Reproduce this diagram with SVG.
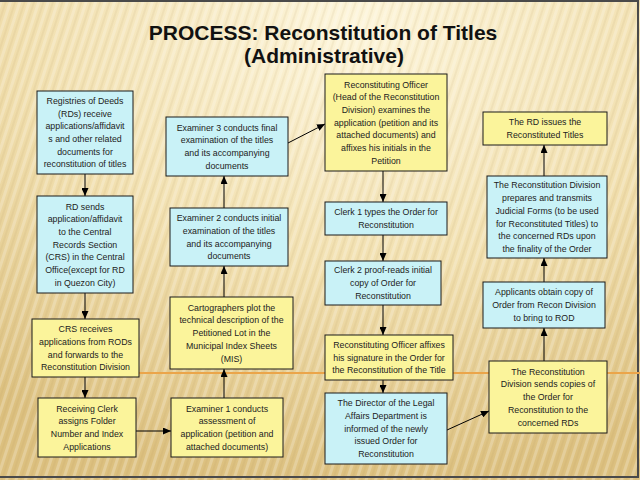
<svg xmlns="http://www.w3.org/2000/svg" width="640" height="480" viewBox="0 0 640 480">
<defs>
<radialGradient id="bg" cx="55%" cy="5%" r="95%">
<stop offset="0" stop-color="#fdf5da"/>
<stop offset="0.55" stop-color="#f1dfae"/>
<stop offset="1" stop-color="#dcc07f"/>
</radialGradient>
<pattern id="stripes" width="9" height="40" patternUnits="userSpaceOnUse" patternTransform="rotate(18)">
<rect x="0" y="0" width="3" height="40" fill="#ffffff" opacity="0.22"/>
<rect x="5" y="0" width="2" height="40" fill="#b89a55" opacity="0.10"/>
</pattern>
<marker id="arr" markerWidth="8" markerHeight="7" refX="8" refY="3.5" orient="auto" markerUnits="userSpaceOnUse">
<path d="M0,0 L8,3.5 L0,7 z" fill="#000"/>
</marker>
<style>
.c{fill:#c9f2f7;stroke:#1a1a1a;stroke-width:1}
.y{fill:#fbf49b;stroke:#1a1a1a;stroke-width:1}
.t{font-family:"Liberation Sans",Arial,sans-serif;font-size:8.8px;fill:#222;text-anchor:middle}
.ttl{font-family:"Liberation Sans",Arial,sans-serif;font-size:21px;font-weight:bold;fill:#111;text-anchor:middle}
.cn{stroke:#000;stroke-width:1;fill:none;marker-end:url(#arr)}
</style>
</defs>
<rect x="0" y="0" width="640" height="480" fill="url(#bg)"/>
<rect x="0" y="0" width="640" height="480" fill="url(#stripes)"/>
<rect x="-4" y="1" width="642" height="476" fill="none" stroke="#4a4a4a" stroke-width="2"/>
<line x1="135" y1="373" x2="640" y2="373" stroke="#eba54a" stroke-width="2"/>
<g id="title">
<text class="ttl" x="323" y="40">PROCESS: Reconstitution of Titles</text>
<text class="ttl" x="324" y="63">(Administrative)</text>
</g>
<g id="connectors">
<line class="cn" x1="85" y1="174" x2="85" y2="196"/>
<line class="cn" x1="85" y1="293" x2="85" y2="319"/>
<line class="cn" x1="85" y1="377" x2="85" y2="398"/>
<line class="cn" x1="136" y1="431" x2="171" y2="431"/>
<line class="cn" x1="224" y1="398" x2="224" y2="369"/>
<line class="cn" x1="224" y1="297" x2="224" y2="266"/>
<line class="cn" x1="224" y1="208" x2="224" y2="176"/>
<line class="cn" x1="288" y1="143" x2="325" y2="124"/>
<line class="cn" x1="383" y1="171" x2="383" y2="202"/>
<line class="cn" x1="383" y1="235" x2="383" y2="261"/>
<line class="cn" x1="383" y1="305" x2="383" y2="335"/>
<line class="cn" x1="383" y1="380" x2="383" y2="393"/>
<line class="cn" x1="447" y1="430" x2="489" y2="411"/>
<line class="cn" x1="544" y1="361" x2="544" y2="328"/>
<line class="cn" x1="544" y1="282" x2="544" y2="258"/>
<line class="cn" x1="544" y1="176" x2="544" y2="145"/>
</g>
<g id="nodeA">
<rect class="c" x="37" y="91" width="96" height="83"/>
<text class="t"><tspan x="85" y="103.9">Registries of Deeds</tspan><tspan x="85" dy="12.7">(RDs) receive</tspan><tspan x="85" dy="12.7">applications/affidavit</tspan><tspan x="85" dy="12.7">s and other related</tspan><tspan x="85" dy="12.7">documents for</tspan><tspan x="85" dy="12.7">reconstitution of titles</tspan></text>
</g>
<g id="nodeB">
<rect class="c" x="37" y="196" width="96" height="97"/>
<text class="t"><tspan x="85" y="209.5">RD sends</tspan><tspan x="85" dy="12.7">application/affidavit</tspan><tspan x="85" dy="12.7">to the Central</tspan><tspan x="85" dy="12.7">Records Section</tspan><tspan x="85" dy="12.7">(CRS) in the Central</tspan><tspan x="85" dy="12.7">Office(except for RD</tspan><tspan x="85" dy="12.7">in Quezon City)</tspan></text>
</g>
<g id="nodeC">
<rect class="y" x="32" y="319" width="107" height="58"/>
<text class="t"><tspan x="85.5" y="332.1">CRS receives</tspan><tspan x="85.5" dy="12.7">applications from RODs</tspan><tspan x="85.5" dy="12.7">and forwards to the</tspan><tspan x="85.5" dy="12.7">Reconstitution Division</tspan></text>
</g>
<g id="nodeD">
<rect class="y" x="38" y="398" width="98" height="59"/>
<text class="t"><tspan x="87" y="411.6">Receiving Clerk</tspan><tspan x="87" dy="12.7">assigns Folder</tspan><tspan x="87" dy="12.7">Number and Index</tspan><tspan x="87" dy="12.7">Applications</tspan></text>
</g>
<g id="nodeE">
<rect class="y" x="171" y="398" width="112" height="59"/>
<text class="t"><tspan x="227" y="411.6">Examiner 1 conducts</tspan><tspan x="227" dy="12.7">assessment of</tspan><tspan x="227" dy="12.7">application (petition and</tspan><tspan x="227" dy="12.7">attached documents)</tspan></text>
</g>
<g id="nodeF">
<rect class="y" x="170" y="297" width="123" height="72"/>
<text class="t"><tspan x="231.5" y="310.7">Cartographers plot the</tspan><tspan x="231.5" dy="12.7">technical description of the</tspan><tspan x="231.5" dy="12.7">Petitioned Lot in the</tspan><tspan x="231.5" dy="12.7">Municipal Index Sheets</tspan><tspan x="231.5" dy="12.7">(MIS)</tspan></text>
</g>
<g id="nodeG">
<rect class="c" x="170" y="208" width="118" height="58"/>
<text class="t"><tspan x="229" y="221.1">Examiner 2 conducts initial</tspan><tspan x="229" dy="12.7">examination of the titles</tspan><tspan x="229" dy="12.7">and its accompanying</tspan><tspan x="229" dy="12.7">documents</tspan></text>
</g>
<g id="nodeH">
<rect class="c" x="166" y="117" width="122" height="59"/>
<text class="t"><tspan x="227" y="130.6">Examiner 3 conducts final</tspan><tspan x="227" dy="12.7">examination of the titles</tspan><tspan x="227" dy="12.7">and its accompanying</tspan><tspan x="227" dy="12.7">documents</tspan></text>
</g>
<g id="nodeI">
<rect class="y" x="325" y="74" width="122" height="97"/>
<text class="t"><tspan x="386" y="87.5">Reconstituting Officer</tspan><tspan x="386" dy="12.7">(Head of the Reconstitution</tspan><tspan x="386" dy="12.7">Division) examines the</tspan><tspan x="386" dy="12.7">application (petition and its</tspan><tspan x="386" dy="12.7">attached documents) and</tspan><tspan x="386" dy="12.7">affixes his initials in the</tspan><tspan x="386" dy="12.7">Petition</tspan></text>
</g>
<g id="nodeJ">
<rect class="c" x="325" y="202" width="122" height="33"/>
<text class="t"><tspan x="386" y="215.3">Clerk 1 types the Order for</tspan><tspan x="386" dy="12.7">Reconstitution</tspan></text>
</g>
<g id="nodeK">
<rect class="c" x="325" y="261" width="116" height="44"/>
<text class="t"><tspan x="383" y="273.4">Clerk 2 proof-reads initial</tspan><tspan x="383" dy="12.7">copy of Order for</tspan><tspan x="383" dy="12.7">Reconstitution</tspan></text>
</g>
<g id="nodeL">
<rect class="y" x="325" y="335" width="128" height="45"/>
<text class="t"><tspan x="389" y="347.9">Reconstituting Officer affixes</tspan><tspan x="389" dy="12.7">his signature in the Order for</tspan><tspan x="389" dy="12.7">the Reconstitution of the Title</tspan></text>
</g>
<g id="nodeM">
<rect class="c" x="325" y="393" width="122" height="71"/>
<text class="t"><tspan x="386" y="406.2">The Director of the Legal</tspan><tspan x="386" dy="12.7">Affairs Department is</tspan><tspan x="386" dy="12.7">informed of the newly</tspan><tspan x="386" dy="12.7">issued Order for</tspan><tspan x="386" dy="12.7">Reconstitution</tspan></text>
</g>
<g id="nodeN">
<rect class="y" x="489" y="361" width="118" height="72"/>
<text class="t"><tspan x="548" y="374.7">The Reconstitution</tspan><tspan x="548" dy="12.7">Division sends copies of</tspan><tspan x="548" dy="12.7">the Order for</tspan><tspan x="548" dy="12.7">Reconstitution to the</tspan><tspan x="548" dy="12.7">concerned RDs</tspan></text>
</g>
<g id="nodeO">
<rect class="c" x="483" y="282" width="122" height="46"/>
<text class="t"><tspan x="544" y="295.4">Applicants obtain copy of</tspan><tspan x="544" dy="12.7">Order from Recon Division</tspan><tspan x="544" dy="12.7">to bring to ROD</tspan></text>
</g>
<g id="nodeP">
<rect class="c" x="487" y="176" width="120" height="82"/>
<text class="t"><tspan x="547" y="188.4">The Reconstitution Division</tspan><tspan x="547" dy="12.7">prepares and transmits</tspan><tspan x="547" dy="12.7">Judicial Forms (to be used</tspan><tspan x="547" dy="12.7">for Reconstituted Titles) to</tspan><tspan x="547" dy="12.7">the concerned RDs upon</tspan><tspan x="547" dy="12.7">the finality of the Order</tspan></text>
</g>
<g id="nodeQ">
<rect class="y" x="483" y="112" width="124" height="33"/>
<text class="t"><tspan x="545" y="125.3">The RD issues the</tspan><tspan x="545" dy="12.7">Reconstituted Titles</tspan></text>
</g>
</svg>
